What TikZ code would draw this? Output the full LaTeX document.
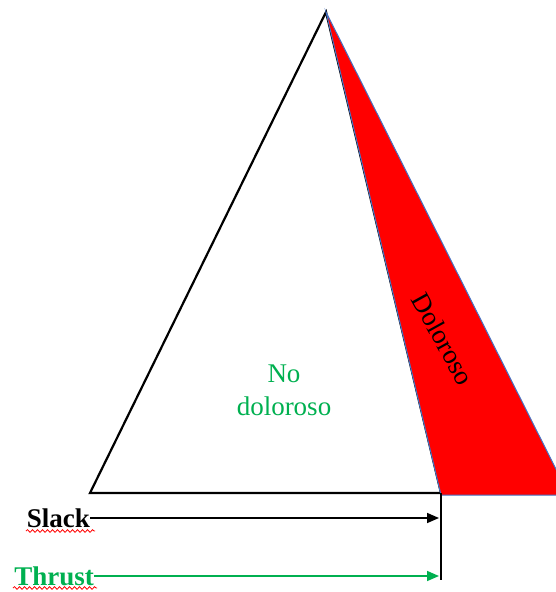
\documentclass[tikz,border=0pt]{standalone}
\usepackage{fontspec}
\setmainfont{Liberation Serif}
\usetikzlibrary{arrows.meta,decorations.pathmorphing}
\definecolor{okgreen}{RGB}{0,176,80}
\definecolor{edgeblue}{RGB}{68,114,196}
\tikzset{
  lbl/.style={font=\fontsize{27}{33}\selectfont, inner sep=0pt},
  arr/.style={line width=1.6pt, -{Triangle[length=12pt,width=10pt]}},
  squiggle/.style={red, line width=0.8pt, decorate, decoration={snake, amplitude=1.3pt, segment length=5pt}}
}
\begin{document}
\begin{tikzpicture}[x=1pt,y=-1pt]
\useasboundingbox (0,0) rectangle (556,592);
\clip (0,0) rectangle (556,592);
% coordinates
\coordinate (apex) at (326,12);
\coordinate (bl) at (90,493);
\coordinate (br) at (441,493);
\coordinate (rr) at (569,495);
\coordinate (rb) at (441,495);
\coordinate (vend) at (441,580);
% main triangle
\draw[line width=2.2pt, line join=miter] (apex) -- (bl) -- (br) -- cycle;
% painful wedge
\fill[red, draw=edgeblue, line width=1pt] (apex) -- (rb) -- (rr) -- cycle;
% vertical line
\draw[line width=1.6pt] (br) -- (vend);
% labels
\node[lbl, okgreen, align=center] (nd) at (284,390) {No\\doloroso};
\node[lbl, rotate=-61] (dol) at (443,339) {Doloroso};
\node[lbl, font=\fontsize{27}{33}\selectfont\bfseries, anchor=east] (slack) at (90,518) {Slack};
\node[lbl, font=\fontsize{27}{33}\selectfont\bfseries, okgreen, anchor=east] (thrust) at (94,576) {Thrust};
\coordinate (sa) at (439,518);
\coordinate (ta) at (439,576);
\draw[arr] (slack.east) -- (sa);
\draw[arr, okgreen] (thrust.east) -- (ta);
% spell-check underlines
\draw[squiggle] (26,531) -- (95,531);
\draw[squiggle] (13,588) -- (97,588);
\end{tikzpicture}
\end{document}
